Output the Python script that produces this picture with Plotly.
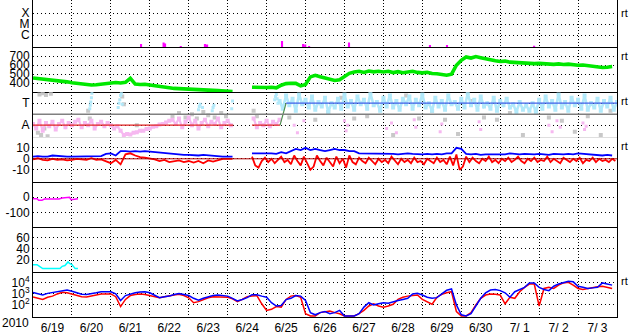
import plotly.graph_objects as go
from plotly.subplots import make_subplots
from datetime import datetime, timedelta

T0 = datetime(2010, 6, 19)
T_END = datetime(2010, 7, 4)


def ts(hours):
    return [T0 + timedelta(hours=h) for h in hours]


# ---------------- Panel 1: X-ray flares (log10 flux of bar top) ----------------
XR_BASE = -7.09
flare_hours = [66.6, 80.5, 81.4, 91.1, 106.0, 107.3, 153.5, 166.5, 167.8, 170.2, 194.8, 244.7, 255.2, 308.9]
flare_top = [-6.80, -6.67, -6.75, -6.97, -6.79, -6.85, -6.52, -6.79, -6.85, -6.97, -6.67, -6.88, -6.88, -6.95]

# ---------------- Panel 2: solar wind speed (3-hour samples) ----------------
speed = [
    458, 452, 455, 448, 440, 432, 425, 415,
    405, 398, 390, 385, 380, 383, 390, 400,
    405, 408, 402, 410, 455, 390, 385, 388,
    380, 370, 360, 355, 350, 342, 338, 340,
    335, 330, 328, 325, 322, 320, 318, 315,
    312, 308, None, None, None, 355, 352, 358,
    352, 355, 348, 378, 395, 400, 398, 370,
    385, 470, 488, 472, 455, 445, 430, 438,
    480, 510, 525, 532, 520, 535, 526, 532,
    525, 532, 518, 528, 516, 525, 532, 520,
    515, 522, 508, 505, 494, 488, 500, 600,
    655, 692, 680, 696, 684, 670, 660, 650,
    642, 646, 634, 630, 624, 628, 620, 618,
    620, 614, 618, 610, 615, 608, 612, 604,
    600, 602, 594, 590, 580, 574, 578, 585,
]

# ---------------- Panel 3: IMF sector (T = +1, A = -1) ----------------
pink_band = (
    [-0.9, -1.3, -0.6, -1.5, -0.8, -1.1, -0.7, -1.4, -0.9, -0.6, -1.2, -0.8, -1.0, -0.7,
     -0.5, -1.2, -0.8, -1.0, -0.6, -1.3, -0.9, -0.7, -1.1, -0.8, -1.0, -1.3, -1.1, -1.5]
    + [-1.9, -1.8, -1.85, -1.7, -1.65, -1.5, -1.5, -1.35, -1.3, -1.15, -1.1, -0.95, -0.9, -0.75, -0.6]
    + [-0.5, -0.9, -0.4, -1.2, -0.7, -0.3, -1.0, -0.6, -1.3, -0.8, -0.5, -1.1, -0.7, -0.9,
       -0.4, -1.2, -0.8, -0.6, -1.0]
    + [None]
    + [-0.4, -1.2, -0.8, -1.0, -0.6, -1.1, -0.7, -0.9, -0.5]
)
pink_band_hours = list(range(0, 124, 2)) + [129] + list(range(136, 154, 2))

pink_sparse_hours = [161, 163, 167, 192, 193, 194, 218, 221, 224, 235, 236, 251, 252, 275, 276,
                     318, 320, 323, 325, 339, 340, 341]
pink_sparse = [-1.0, -1.7, -0.6, -0.6, -1.5, -1.0, -1.3, -0.8, -1.7, -0.5, -1.2, -1.6, -0.9, -0.7, -1.4,
               -1.0, -1.6, -0.6, -1.2, -0.8, -1.4, -1.1]

cyan_streak_hours = [35, 35.3, 35.6, 36, 36.3, 52.5, 53, 53.5, 54, 54.5, 55, 102, 102.5, 103, 104.5,
                     110.5, 111, 111.5, 122.5, 123, 149, 149.5, 150, 150.5, 151]
cyan_streak = [0.5, 0.8, 1.1, 1.5, 1.9, 0.6, 1.0, 1.3, 1.7, 1.9, 0.9, 0.4, 0.7, 0.9, 0.6,
               0.3, 0.6, 0.8, 0.5, 1.2, 1.3, 1.6, 1.8, 1.4, 1.0]

cyan_band = [
    1.2, 0.5, 1.7, 0.8, 1.4, 0.3, 1.8, 0.9, 1.3, 0.6, 1.6, 0.4, 1.1, 0.7, 1.5, 0.2, 1.0, 0.6, 1.4, 0.5,
    1.8, 0.7, 1.2, 0.4, 1.6, 0.9, 1.3, 0.5, 1.9, 0.8, 1.1, 0.3, 1.5, 0.7, 1.7, 0.6, 1.2, 0.4, 1.4, 0.9,
    1.6, 0.5, 1.3, 0.8, 1.8, 0.6, 1.0, 0.3, 1.5, 0.7, 1.2, 0.4, 1.7, 0.9, 1.1, 0.5, 1.4, 0.6, 1.9, 0.8,
    1.3, 0.4, 1.6, 0.7, 1.0, 0.5, 1.5, 0.3, 1.2, 0.8, 1.4, 0.6, 0.9, 0.2, 1.1, 0.4, 0.8, 0.3, 1.0, 0.2,
    1.3, 0.5, 1.6, 0.7, 1.2, 0.4, 1.8, 0.6, 1.1, 0.3, 1.5, 0.8, 1.3, 0.5, 1.7, 0.4, 1.0, 0.6, 1.4, 0.3,
    1.2, 0.7, 1.5, 0.4, 1.1,
]

gray_hours = [3, 5, 7, 9, 4, 6, 8, 11, 34, 35, 55, 56, 64, 86, 90, 94, 98, 101, 105, 108, 112, 116, 119,
              136, 138, 158, 166, 174, 182, 190, 198, 206, 214, 222, 230, 238, 246, 254, 262, 270,
              278, 286, 294, 302, 310, 318, 326, 334, 342, 350, 356]
gray_vals = [-1.7, -1.9, -1.3, -2.0, 1.8, 1.9, 1.75, 1.85, 0.3, -0.4, 1.6, 0.9, -1.0, -0.2, 0.1, -0.3, 0.0,
             -0.4, 0.2, -0.1, -0.3, 0.1, -0.2, 0.3, -0.2, -0.3, 1.0, -0.5, 0.2, 1.5, -0.4, -0.2, 0.5,
             -1.9, 1.7, -0.4, 0.3, -0.5, -1.8, 1.2, -0.3, -0.5, 0.1, -1.9, 0.4, -0.3, -0.6, -1.6, -0.2,
             -1.9, 0.3]

sector_a_hours = [0, 123.5, 129, 135, 152.3]
sector_a = [-1, -1, None, -1, -1]
sector_turn_hours = [152.3, 156]
sector_turn = [-1, 1]
sector_t_hours = [156, 360]
sector_t = [1, 1]

# ---------------- Panel 4: IMF Bt (blue) and Bz (red) ----------------
bt = [
    2, 2.5, 2, 2, 3, 2.5, 2, 2,
    2, 2, 2.5, 2, 2, 2, 2.5, 4.5,
    5, 3, 7, 7, 6.5, 7, 6.5, 7,
    6.5, 6.5, 6, 5.5, 4.5, 4, 4, 3.5,
    3.5, 3, 3, 3.5, 3, 2.5, 2, 2,
    2, 2, None, None, None, 5, 5, 5.5,
    5, 5, 4.5, 6, 5, 7, 9, 8,
    10, 8, 9, 8, 7, 8, 9, 8,
    8, 7, 7, 5, 5, 4.5, 5, 4.5,
    4.5, 5, 4.5, 4, 4.5, 5, 4.5, 4,
    4, 4.5, 4, 4.5, 4, 5, 5, 10,
    9, 4.5, 4, 4.5, 3.5, 4, 4, 3.5,
    3.5, 4, 5, 4.5, 4, 4.5, 4, 4,
    4.5, 4, 3.5, 4.5, 4, 4, 4.5, 4,
    5, 4.5, 4, 4, 3.5, 3, 3.5, 3,
]
bz_early = [
    -0.5, 0.5, -1, -1.5, 0, -1, -0.5, -1.5,
    -1, 0, -0.5, -1, 0.5, -1, -0.5, -2,
    -4, -1, -5, 4, 5, 3, 1.5, 1,
    0.5, -0.5, -2, -1, -3, -2, -1.5, -3,
    -2, -3.5, -2, -4, -1.5, -2.5, -1, 0,
    0, 0,
]
bz_late = [
    2, -6, -8, -2, 1, -3, 0, -4, -1, 2,
    -3, -1, -5, 3, -2, -6, 2, -4, -10, -7,
    3, -2, -6, 1, -3, -7, 2, -4, 0, -8,
    3, -3, -5, 1, -2, -4, 1, -2, -5, 0,
    -3, -1, -4, 2, -2, -5, 0, -3, -1, -4,
    1, -3, -2, -5, 0, -2, -4, 1, -3, -1,
    -5, 2, -6, 4, -10, -7, 2, -3, 1, -2,
    -4, 0, -2, 2, -3, -1, -4, 0, -2, 1,
    -3, -1, 2, -2, -4, 0, -2, 1, -3, -1,
    -2, 2, -3, 0, -2, -4, 1, -1, -3, 0,
    -2, 1, -4, -1, -2, 1, -3, 0, -2, -1,
    -3, 0, -2,
]

# ---------------- Panel 5: Dst ----------------
dst_hours = [0, 2.5, 3.5, 5.5, 7, 12, 16, 18, 21, 22.5, 23.5, 25.5, 27.7]
dst = [-10, -10, -20, -20, -12, -12, -11, -5, -3, 0, -16, -15, -10]

# ---------------- Panel 6: AE-like index ----------------
idx_hours = [0, 2.5, 4, 6, 16.6, 18, 19.7, 21.6, 22.5, 24, 26, 27.7]
idx = [11.6, 11.6, 8.6, 4.4, 4.4, 8.6, 10, 16.5, 14, 11.6, 4.4, 4.4]

# ---------------- Panel 7: electron flux (log10, 3-hour samples) ----------------
flux_blue_log = [
    3.12, 3.0, 2.9, 3.05, 3.12, 3.2, 3.3, 3.35,
    3.25, 3.1, 2.97, 2.95, 3.0, 3.1, 3.2, 3.2,
    3.2, 3.0, 2.4, 2.85, 3.0, 3.1, 3.18, 3.2,
    3.1, 2.9, 2.66, 2.75, 2.8, 2.95, 3.03, 2.95,
    2.85, 2.6, 2.42, 2.6, 2.73, 2.85, 2.9, 2.85,
    2.8, 2.6, 2.36, 2.5, 2.66, 2.93, 2.93, 2.8,
    2.7, 2.2, 1.9, 1.95, 2.48, 2.6, 2.85, 2.8,
    2.4, 1.3, 1.1, 1.3, 1.4, 1.2, 1.3, 1.5,
    1.0, 1.0, 1.0, 1.2, 1.8, 2.2, 2.0, 2.1,
    2.2, 2.15, 2.3, 2.4, 2.5, 2.6, 3.0, 3.05,
    2.9, 2.7, 2.6, 2.66, 3.0, 3.33, 3.45, 2.0,
    1.1, 1.0, 1.2, 1.9, 2.6, 3.1, 3.35, 3.4,
    3.3, 3.1, 2.7, 3.2, 3.4, 3.6, 4.0, 4.0,
    3.6, 3.4, 3.3, 3.7, 3.9, 4.0, 4.15, 4.1,
    3.7, 3.6, 3.5, 3.55, 3.6, 4.0, 3.9, 3.8,
]
flux_red_log = [
    2.73, 2.6, 2.5, 2.7, 2.8, 3.0, 3.15, 3.1,
    2.97, 2.85, 2.75, 2.73, 2.8, 2.9, 3.0, 3.0,
    3.0, 2.75, 1.85, 2.5, 2.85, 2.95, 3.0, 2.95,
    2.85, 2.75, 2.66, 2.75, 2.8, 2.9, 2.97, 2.85,
    2.65, 2.2, 2.3, 2.48, 2.65, 2.75, 2.75, 2.7,
    2.7, 2.55, 2.3, 2.5, 2.75, 2.8, 2.85, 2.1,
    1.5, 1.6, 1.85, 1.8, 2.5, 2.8, 2.85, 2.7,
    1.2, 1.0, 1.0, 1.3, 1.4, 1.45, 1.3, 1.2,
    1.0, 1.0, 1.0, 1.2, 1.5, 1.9, 2.1, 1.9,
    1.8, 1.9, 2.06, 2.5, 2.7, 2.8, 2.85, 2.9,
    2.5, 2.3, 2.06, 2.7, 2.97, 3.1, 3.2, 1.4,
    1.0, 1.0, 1.3, 2.0, 2.6, 2.9, 3.0, 2.97,
    2.9, 2.1, 2.7, 2.6, 3.2, 3.6, 3.9, 3.9,
    1.9, 3.5, 3.6, 3.5, 3.8, 4.0, 4.05, 3.8,
    3.5, 3.4, 3.5, 3.6, 3.65, 3.7, 3.6, 3.5,
]
FLUX_ALERT = 1e4

# y-axis tick labels
xray_ticks = ([-4, -5, -6], ["X", "M", "C"])
speed_ticks = ([700, 600, 500, 400], ["700", "600", "500", "400"])
sector_ticks = ([1, -1], ["T", "A"])
imf_ticks = ([10, 0, -10], ["10", "0", "-10"])
dst_ticks = ([0, -100], ["0", "-100"])
idx_ticks = ([60, 40, 20], ["60", "40", "20"])
flux_ticks = ([4, 3, 2], ["10<sup>4</sup>", "10<sup>3</sup>", "10<sup>2</sup>"])

hours3 = [3 * i for i in range(120)]

fig = make_subplots(rows=7, cols=1, shared_xaxes=True, vertical_spacing=0,
                    row_heights=[47.3, 45, 45, 45.4, 45, 44.8, 44.9])

PINK = "#F6B8F0"
LCYAN = "#B2E9FA"

# Panel 1
fig.add_trace(go.Bar(x=ts(flare_hours), y=[t - XR_BASE for t in flare_top], base=XR_BASE,
                     width=3600000 * 1.3, marker=dict(color="#FF00FF", line=dict(width=0))),
              row=1, col=1)

# Panel 2
fig.add_trace(go.Scatter(x=ts(hours3), y=speed, mode="lines",
                         line=dict(color="#00E800", width=3.6)), row=2, col=1)

# Panel 3
fig.add_trace(go.Scatter(x=ts(gray_hours), y=gray_vals, mode="markers",
                         marker=dict(color="#C8C8C8", size=4, symbol="square")), row=3, col=1)
fig.add_trace(go.Scatter(x=ts(pink_band_hours), y=pink_band, mode="lines+markers",
                         line=dict(color=PINK, width=2.2),
                         marker=dict(color=PINK, size=4, symbol="square")), row=3, col=1)
fig.add_trace(go.Scatter(x=ts(pink_sparse_hours), y=pink_sparse, mode="markers",
                         marker=dict(color=PINK, size=3, symbol="square")), row=3, col=1)
fig.add_trace(go.Scatter(x=ts(cyan_streak_hours), y=cyan_streak, mode="markers",
                         marker=dict(color=LCYAN, size=3, symbol="square")), row=3, col=1)
fig.add_trace(go.Scatter(x=ts([152 + 2 * i for i in range(len(cyan_band))]), y=cyan_band,
                         mode="lines+markers", line=dict(color=LCYAN, width=2.6),
                         marker=dict(color=LCYAN, size=4, symbol="square")), row=3, col=1)
fig.add_hline(y=0, line=dict(color="#808080", width=1.5), row=3, col=1)
fig.add_trace(go.Scatter(x=ts(sector_a_hours), y=sector_a, mode="lines",
                         line=dict(color="#E02020", width=1.2)), row=3, col=1)
fig.add_trace(go.Scatter(x=ts(sector_turn_hours), y=sector_turn, mode="lines",
                         line=dict(color="#509050", width=1.2)), row=3, col=1)
fig.add_trace(go.Scatter(x=ts(sector_t_hours), y=sector_t, mode="lines",
                         line=dict(color="#4060E8", width=1.2)), row=3, col=1)

# Panel 4
bz_hours = [3 * i for i in range(len(bz_early))] + [129] + [135 + 2 * i for i in range(len(bz_late))]
bz = bz_early + [None] + bz_late
fig.add_trace(go.Scatter(x=ts(hours3), y=bt, mode="lines",
                         line=dict(color="#0000FF", width=1.8)), row=4, col=1)
fig.add_trace(go.Scatter(x=ts(bz_hours), y=bz, mode="lines",
                         line=dict(color="#FF0000", width=1.8)), row=4, col=1)
fig.add_hline(y=0, line=dict(color="#B00000", width=1), row=4, col=1)

# Panel 5
fig.add_hline(y=0, line=dict(color="#C00000", width=1.5), row=5, col=1)
fig.add_trace(go.Scatter(x=ts(dst_hours), y=dst, mode="lines",
                         line=dict(color="#FF00FF", width=1.5)), row=5, col=1)

# Panel 6
fig.add_trace(go.Scatter(x=ts(idx_hours), y=idx, mode="lines",
                         line=dict(color="#00FFFF", width=1.5)), row=6, col=1)

# Panel 7
fig.add_hline(y=FLUX_ALERT, line=dict(color="#C00000", width=1.5, dash="10px,4px"), row=7, col=1)
fig.add_trace(go.Scatter(x=ts(hours3), y=[10 ** v for v in flux_red_log], mode="lines",
                         line=dict(color="#FF0000", width=1.5)), row=7, col=1)
fig.add_trace(go.Scatter(x=ts(hours3), y=[10 ** v for v in flux_blue_log], mode="lines",
                         line=dict(color="#0000FF", width=1.5)), row=7, col=1)

FONT = dict(family="Liberation Sans, Arial, sans-serif", size=12, color="black")

for r in range(1, 8):
    fig.update_xaxes(row=r, col=1, type="date", range=[T0, T_END],
                     tick0="2010-06-19", dtick=86400000,
                     showgrid=True, gridcolor="black", griddash="1px,2px", gridwidth=1,
                     showline=True, linecolor="black", linewidth=1, mirror=False,
                     ticks="", zeroline=False, showticklabels=(r == 7),
                     tickformat="%-m/%e", ticklabelmode="period", tickfont=FONT)

ycfg = [
    ([-7.09, -2.8], xray_ticks, "linear"),
    ([300, 800], speed_ticks, "linear"),
    ([-2.09, 2.0], sector_ticks, "linear"),
    ([-21.5, 19.7], imf_ticks, "linear"),
    ([-195, 95.5], dst_ticks, "linear"),
    ([-2, 79], idx_ticks, "linear"),
    ([0.9, 4.98], flux_ticks, "log"),
]
for r, (rng, (tv, tt), typ) in enumerate(ycfg, start=1):
    if typ == "log":
        fig.update_yaxes(row=r, col=1, type="log", range=rng,
                         tickvals=[10 ** v for v in tv], ticktext=tt)
    else:
        fig.update_yaxes(row=r, col=1, type="linear", range=rng, tickvals=tv, ticktext=tt)
    fig.update_yaxes(row=r, col=1, showgrid=True, gridcolor="black", griddash="1px,3px", gridwidth=1,
                     showline=True, linecolor="black", linewidth=1, mirror=True,
                     ticks="", zeroline=False, tickfont=FONT)

PLOT_H = 317.5
annots = []
for ypix in [13, 56, 101, 146, 281]:
    annots.append(dict(text="rt", x=1.003, y=1 - ypix / PLOT_H, xref="paper", yref="paper",
                       xanchor="left", yanchor="middle", showarrow=False,
                       font=dict(family="Liberation Sans, Arial, sans-serif", size=11, color="black")))
annots.append(dict(text="2010", x=-33 / 584, y=-6.5 / PLOT_H, xref="paper", yref="paper",
                   xanchor="left", yanchor="middle", showarrow=False, font=FONT))

fig.update_layout(width=633, height=334, margin=dict(l=33, r=16, t=0, b=16.5),
                  paper_bgcolor="white", plot_bgcolor="white", showlegend=False,
                  annotations=annots, font=FONT)

fig.write_html("out.html", config={"displayModeBar": False})
